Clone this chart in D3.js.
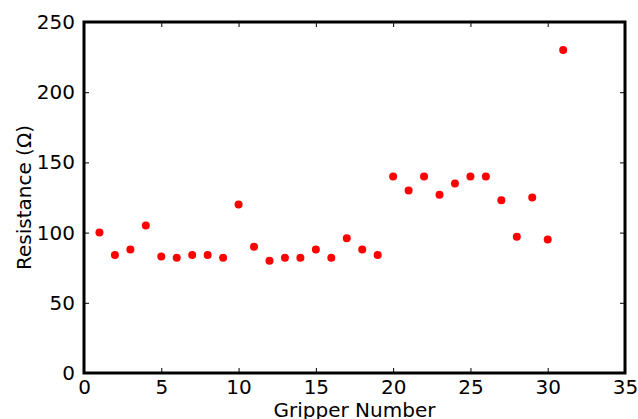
<!DOCTYPE html>
<html>
<head>
<meta charset="utf-8">
<script src="https://cdn.jsdelivr.net/npm/d3@7"></script>
<style>
  body { margin: 0; background: #fff; }
  text { font-family: "DejaVu Sans", sans-serif; fill: #000; }
</style>
</head>
<body>
<svg id="chart" width="638" height="419"></svg>
<script>
// gripper number vs measured resistance
const grippers = [1, 2, 3, 4, 5, 6, 7, 8, 9, 10, 11, 12, 13, 14, 15, 16,
                  17, 18, 19, 20, 21, 22, 23, 24, 25, 26, 27, 28, 29, 30, 31];
const resistance = [100, 84, 88, 105, 83, 82, 84, 84, 82, 120, 90, 80, 82, 82, 88, 82,
                    96, 88, 84, 140, 130, 140, 127, 135, 140, 140, 123, 97, 125, 95, 230];
const xTicks = [0, 5, 10, 15, 20, 25, 30, 35];
const yTicks = [0, 50, 100, 150, 200, 250];

const svg = d3.select('#chart');
const margin = { top: 22, right: 13, bottom: 46, left: 84 },
      width = +svg.attr('width') - margin.left - margin.right,
      height = +svg.attr('height') - margin.top - margin.bottom;

const g = svg.append('g').attr('transform', `translate(${margin.left},${margin.top})`);

const x = d3.scaleLinear().domain([0, 35]).range([0, width]);
const y = d3.scaleLinear().domain([0, 250]).range([height, 0]);

// points
g.selectAll('.dot')
    .data(grippers)
    .enter().append('circle')
    .attr('class', 'dot')
    .attr('cx', d => x(d))
    .attr('cy', (d, i) => y(resistance[i]))
    .attr('r', 4)
    .attr('fill', '#ff0000');

// axes, ticks pointing inward on all four sides
function styleAxis(sel) {
    sel.select('.domain').remove();
    sel.selectAll('line').attr('stroke', '#000').attr('stroke-width', 1);
    sel.selectAll('text').style('font-size', '20px').style('font-family', 'DejaVu Sans');
}
g.append('g').attr('transform', `translate(0,${height})`)
    .call(d3.axisBottom(x).tickValues(xTicks).tickSizeInner(-5).tickSizeOuter(0).tickPadding(7))
    .call(styleAxis);
g.append('g')
    .call(d3.axisTop(x).tickValues(xTicks).tickSizeInner(-5).tickSizeOuter(0).tickFormat(''))
    .call(styleAxis);
g.append('g')
    .call(d3.axisLeft(y).tickValues(yTicks).tickSizeInner(-5).tickSizeOuter(0).tickPadding(9))
    .call(styleAxis);
g.append('g').attr('transform', `translate(${width},0)`)
    .call(d3.axisRight(y).tickValues(yTicks).tickSizeInner(-5).tickSizeOuter(0).tickFormat(''))
    .call(styleAxis);

// frame
g.append('rect')
    .attr('width', width).attr('height', height)
    .attr('fill', 'none').attr('stroke', '#000').attr('stroke-width', 3);

// axis labels (x label is clipped by the bottom edge, as in the original figure)
g.append('text')
    .attr('x', width / 2).attr('y', height + 44)
    .style('text-anchor', 'middle').style('font-size', '20px')
    .text('Gripper Number');
g.append('text')
    .attr('transform', 'rotate(-90)')
    .attr('x', -height / 2).attr('y', -53)
    .style('text-anchor', 'middle').style('font-size', '20px')
    .text('Resistance (Ω)');
</script>
</body>
</html>
